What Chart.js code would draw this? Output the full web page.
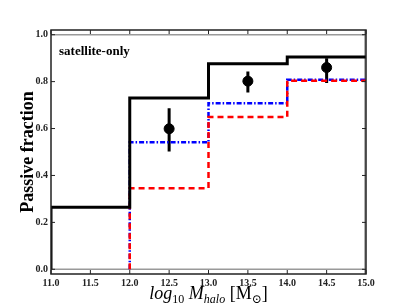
<!DOCTYPE html>
<html><head>
<meta charset="utf-8">
<title>Passive fraction vs halo mass</title>
<style>
  body { margin: 0; background: #fff; }
  #chart { display: block; }
</style>
</head>
<body>
<canvas id="chart" width="407" height="305"></canvas>
<script src="https://cdn.jsdelivr.net/npm/chart.js"></script>
<script>
// bin edges in log10 M_halo and the fraction in each bin
const binEdges = [11.0, 12.0, 13.0, 14.0, 15.0];
const fracBlack = [0.265, 0.730, 0.876, 0.905];
const fracRed = [null, 0.346, 0.649, 0.804];
const fracBlue = [null, 0.542, 0.708, 0.808];

// observed points with error bars
const obsMass = [12.5, 13.5, 14.5];
const obsFrac = [0.599, 0.802, 0.860];
const obsLow = [0.502, 0.754, 0.794];
const obsHigh = [0.687, 0.843, 0.900];

const xTicks = [11.0, 11.5, 12.0, 12.5, 13.0, 13.5, 14.0, 14.5, 15.0];
const yTicks = [0.0, 0.2, 0.4, 0.6, 0.8, 1.0];

const serif = "'Liberation Serif', 'DejaVu Serif', serif";

// histogram outline starting from zero at the first filled bin
function stepPoints(vals) {
  const pts = [];
  let first = vals.findIndex(v => v !== null);
  pts.push({x: binEdges[first], y: 0});
  for (let i = first; i < vals.length; i++) {
    pts.push({x: binEdges[i], y: vals[i]});
    pts.push({x: binEdges[i + 1], y: vals[i]});
  }
  return pts;
}

const extras = {
  id: 'extras',
  beforeDatasetsDraw(chart) {
    const {ctx, chartArea: a, scales: {x, y}} = chart;
    ctx.save();
    ctx.strokeStyle = '#999';
    ctx.lineWidth = 1.5;
    ctx.beginPath();
    ctx.moveTo(a.left, y.getPixelForValue(0)); ctx.lineTo(a.right, y.getPixelForValue(0));
    ctx.moveTo(a.left, y.getPixelForValue(1)); ctx.lineTo(a.right, y.getPixelForValue(1));
    ctx.moveTo(a.right - 1, a.top); ctx.lineTo(a.right - 1, a.bottom);
    ctx.stroke();
    ctx.restore();
  },
  beforeDatasetDraw(chart, args) {
    if (args.index !== 3) return;
    const {ctx, scales: {x, y}} = chart;
    ctx.save();
    ctx.strokeStyle = '#000';
    ctx.lineWidth = 3;
    ctx.beginPath();
    obsMass.forEach((m, i) => {
      const px = x.getPixelForValue(m);
      ctx.moveTo(px, y.getPixelForValue(obsLow[i]));
      ctx.lineTo(px, y.getPixelForValue(obsHigh[i]));
    });
    ctx.stroke();
    ctx.restore();
  },
  afterDatasetsDraw(chart) {
    const {ctx, chartArea: a, scales: {x, y}} = chart;
    ctx.save();
    ctx.strokeStyle = '#222';
    ctx.lineWidth = 1.5;
    ctx.strokeRect(a.left, a.top, a.right - a.left, a.bottom - a.top);
    ctx.lineWidth = 1;
    ctx.beginPath();
    xTicks.forEach(v => {
      const px = x.getPixelForValue(v);
      ctx.moveTo(px, a.bottom); ctx.lineTo(px, a.bottom - 4);
      ctx.moveTo(px, a.top); ctx.lineTo(px, a.top + 4);
    });
    yTicks.forEach(v => {
      const py = y.getPixelForValue(v);
      ctx.moveTo(a.left, py); ctx.lineTo(a.left + 4, py);
      ctx.moveTo(a.right, py); ctx.lineTo(a.right - 4, py);
    });
    ctx.stroke();

    // panel label
    ctx.fillStyle = '#000';
    ctx.font = 'bold 13px ' + serif;
    ctx.textAlign = 'left';
    ctx.textBaseline = 'alphabetic';
    ctx.fillText('satellite-only', a.left + 8, a.top + 25);

    // y title
    ctx.save();
    ctx.translate(33, (a.top + a.bottom) / 2);
    ctx.rotate(-Math.PI / 2);
    ctx.textAlign = 'center';
    ctx.font = 'bold 18px ' + serif;
    ctx.fillText('Passive fraction', 0, 0);
    ctx.restore();

    // x title: log10 M_halo [M_sun]
    const parts = [
      {t: 'log', f: 'italic 18px ' + serif, dy: 0},
      {t: '10', f: '12px ' + serif, dy: 4},
      {t: ' M', f: 'italic 18px ' + serif, dy: 0},
      {t: 'halo', f: 'italic 12px ' + serif, dy: 4},
      {t: ' [M', f: '18px ' + serif, dy: 0},
      {t: '\u2299', f: '12px ' + serif, dy: 4},
      {t: ']', f: '18px ' + serif, dy: 0}
    ];
    let w = 0;
    parts.forEach(p => { ctx.font = p.f; p.w = ctx.measureText(p.t).width; w += p.w; });
    let cx = (a.left + a.right) / 2 - w / 2;
    const base = 299;
    parts.forEach(p => {
      ctx.font = p.f;
      ctx.fillText(p.t, cx, base + p.dy);
      cx += p.w;
    });
    ctx.restore();
  }
};

new Chart(document.getElementById('chart'), {
  type: 'line',
  data: {
    datasets: [
      {data: stepPoints(fracBlack), borderColor: '#000', borderWidth: 3, pointRadius: 0, fill: false},
      {data: stepPoints(fracRed), borderColor: '#ff0000', borderWidth: 2.5, borderDash: [6, 4], pointRadius: 0, fill: false},
      {data: stepPoints(fracBlue), borderColor: '#0000ff', borderWidth: 2.5, borderDash: [5, 2, 1.5, 2], pointRadius: 0, fill: false},
      {type: 'scatter', data: obsMass.map((m, i) => ({x: m, y: obsFrac[i]})),
       backgroundColor: '#000', borderColor: '#000', pointRadius: 5, pointHoverRadius: 5}
    ]
  },
  options: {
    responsive: false,
    animation: false,
    events: [],
    layout: {padding: {top: 30, right: 41, left: 0, bottom: 0}},
    plugins: {legend: {display: false}, tooltip: {enabled: false}},
    scales: {
      x: {
        type: 'linear', min: 11, max: 15,
        afterBuildTicks: s => { s.ticks = xTicks.map(v => ({value: v})); },
        afterFit: s => { s.height = 31; },
        grid: {display: false, drawTicks: false},
        border: {display: false},
        ticks: {padding: 3, color: '#222', font: {family: serif, size: 10, weight: 'bold'},
                callback: v => Number(v).toFixed(1)}
      },
      y: {
        type: 'linear', min: -0.02, max: 1.02,
        afterBuildTicks: s => { s.ticks = yTicks.map(v => ({value: v})); },
        afterFit: s => { s.width = 51; },
        grid: {display: false, drawTicks: false},
        border: {display: false},
        ticks: {padding: 3, color: '#222', font: {family: serif, size: 10, weight: 'bold'},
                callback: v => Number(v).toFixed(1)}
      }
    }
  },
  plugins: [extras]
});
</script>
</body></html>
